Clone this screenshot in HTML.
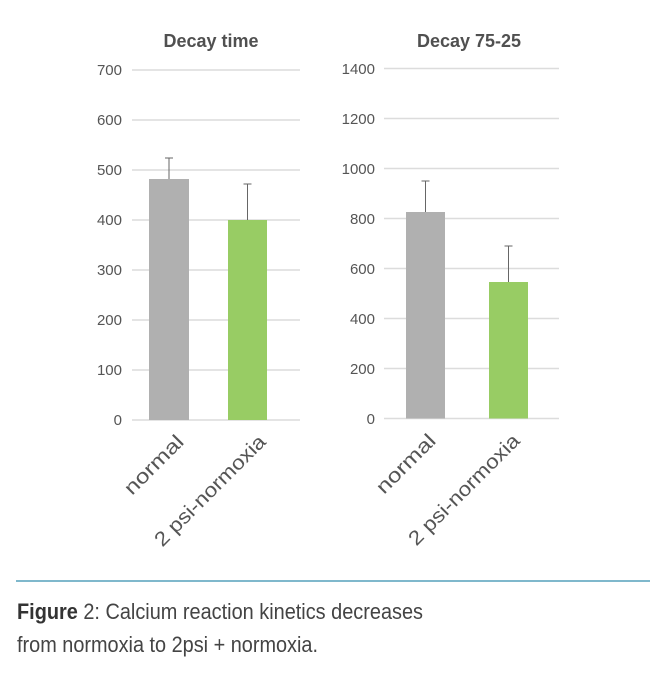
<!DOCTYPE html>
<html><head><meta charset="utf-8"><style>
html,body{margin:0;padding:0;background:#fff;}
body{width:650px;height:678px;overflow:hidden;}
</style></head><body>
<svg width="650" height="678" xmlns="http://www.w3.org/2000/svg" font-family="Liberation Sans, sans-serif">
<rect width="650" height="678" fill="#fff"/>
<text x="211" y="47" text-anchor="middle" font-size="18" font-weight="bold" fill="#505050">Decay time</text>
<g stroke="#dcdcdc" stroke-width="1.5">
<line x1="132" x2="300" y1="70" y2="70"/><line x1="132" x2="300" y1="120" y2="120"/>
<line x1="132" x2="300" y1="170" y2="170"/><line x1="132" x2="300" y1="220" y2="220"/>
<line x1="132" x2="300" y1="270" y2="270"/><line x1="132" x2="300" y1="320" y2="320"/>
<line x1="132" x2="300" y1="370" y2="370"/><line x1="132" x2="300" y1="420" y2="420"/>
</g>
<g font-size="15" fill="#555" text-anchor="end">
<text x="122" y="75">700</text><text x="122" y="125">600</text><text x="122" y="175">500</text>
<text x="122" y="225">400</text><text x="122" y="275">300</text><text x="122" y="325">200</text>
<text x="122" y="375">100</text><text x="122" y="425">0</text>
</g>
<g stroke="#666" stroke-width="1">
<line x1="169" x2="169" y1="158" y2="179"/><line x1="165" x2="173" y1="158" y2="158"/>
<line x1="247.5" x2="247.5" y1="184" y2="220"/><line x1="243.5" x2="251.5" y1="184" y2="184"/>
</g>
<rect x="149" y="179" width="40" height="241" fill="#b0b0b0"/>
<rect x="228" y="220" width="39" height="200" fill="#98cc64"/>
<g font-size="20" fill="#555" text-anchor="end">
<text transform="translate(185,443) rotate(-45)" textLength="75" lengthAdjust="spacingAndGlyphs">normal</text>
<text transform="translate(267,443) rotate(-45)" textLength="148" lengthAdjust="spacingAndGlyphs">2 psi-normoxia</text>
</g>

<text x="469" y="47" text-anchor="middle" font-size="18" font-weight="bold" fill="#505050">Decay 75-25</text>
<g stroke="#dcdcdc" stroke-width="1.5">
<line x1="384" x2="559" y1="68.5" y2="68.5"/><line x1="384" x2="559" y1="118.5" y2="118.5"/>
<line x1="384" x2="559" y1="168.5" y2="168.5"/><line x1="384" x2="559" y1="218.5" y2="218.5"/>
<line x1="384" x2="559" y1="268.5" y2="268.5"/><line x1="384" x2="559" y1="318.5" y2="318.5"/>
<line x1="384" x2="559" y1="368.5" y2="368.5"/><line x1="384" x2="559" y1="418.5" y2="418.5"/>
</g>
<g font-size="15" fill="#555" text-anchor="end">
<text x="375" y="74">1400</text><text x="375" y="124">1200</text><text x="375" y="174">1000</text>
<text x="375" y="224">800</text><text x="375" y="274">600</text><text x="375" y="324">400</text>
<text x="375" y="374">200</text><text x="375" y="424">0</text>
</g>
<g stroke="#666" stroke-width="1">
<line x1="425.5" x2="425.5" y1="181" y2="212"/><line x1="421.5" x2="429.5" y1="181" y2="181"/>
<line x1="508.5" x2="508.5" y1="246" y2="282"/><line x1="504.5" x2="512.5" y1="246" y2="246"/>
</g>
<rect x="406" y="212" width="39" height="206.5" fill="#b0b0b0"/>
<rect x="489" y="282" width="39" height="136.5" fill="#98cc64"/>
<g font-size="20" fill="#555" text-anchor="end">
<text transform="translate(437,442) rotate(-45)" textLength="75" lengthAdjust="spacingAndGlyphs">normal</text>
<text transform="translate(521,442) rotate(-45)" textLength="148" lengthAdjust="spacingAndGlyphs">2 psi-normoxia</text>
</g>

<line x1="16" x2="650" y1="581" y2="581" stroke="#7fb8cc" stroke-width="2"/>
<text x="17" y="619" font-size="22" fill="#444" textLength="406" lengthAdjust="spacingAndGlyphs"><tspan font-weight="bold" fill="#333">Figure</tspan> 2:  Calcium reaction kinetics decreases</text>
<text x="17" y="652" font-size="22" fill="#444" textLength="301" lengthAdjust="spacingAndGlyphs">from normoxia to 2psi + normoxia.</text>
</svg>
</body></html>
